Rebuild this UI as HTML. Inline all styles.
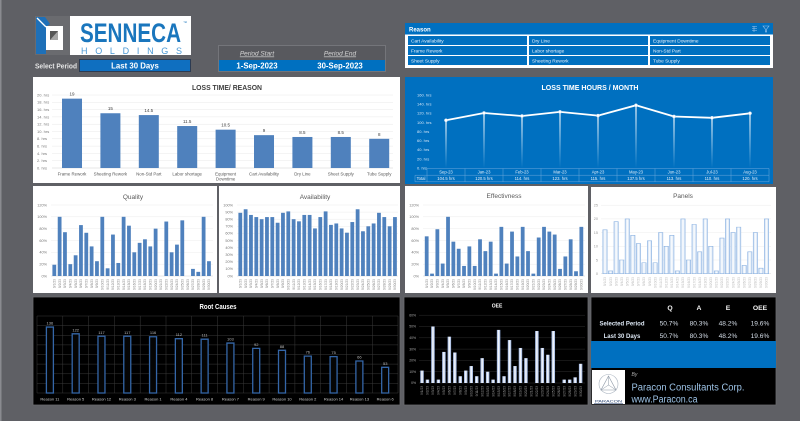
<!DOCTYPE html>
<html><head><meta charset="utf-8"><style>
html,body{margin:0;padding:0;background:#5f6065;}
svg{display:block;font-family:"Liberation Sans",sans-serif;}
</style></head><body>
<svg width="800" height="421" viewBox="0 0 800 421" xmlns="http://www.w3.org/2000/svg">
<defs>
<linearGradient id="drop" x1="0" y1="0" x2="0" y2="1"><stop offset="0" stop-color="#fff" stop-opacity="0.85"/><stop offset="1" stop-color="#fff" stop-opacity="0"/></linearGradient>
<linearGradient id="pan" x1="0" y1="0" x2="1" y2="0"><stop offset="0" stop-color="#c5d9f1"/><stop offset="0.5" stop-color="#ffffff"/><stop offset="1" stop-color="#c5d9f1"/></linearGradient>
<linearGradient id="oee" x1="0" y1="0" x2="1" y2="0"><stop offset="0" stop-color="#8faadc"/><stop offset="0.5" stop-color="#ffffff"/><stop offset="1" stop-color="#8faadc"/></linearGradient>
</defs>
<rect width="800" height="421" fill="#5f6065"/>
<rect x="0" y="0" width="1.5" height="421" fill="#8a8b90"/>

<!-- Logo -->
<rect x="35" y="16" width="156" height="39" fill="#fff"/>
<rect x="35" y="16" width="35" height="39" fill="#6a6b6f"/>
<rect x="36" y="18" width="10" height="36" fill="#1e70b8"/>
<polygon points="36,17 45,17 50,24 46,27 36,19" fill="#1e70b8"/>
<line x1="37" y1="18" x2="46" y2="27" stroke="#fff" stroke-width="1.3"/>
<rect x="46" y="26" width="17" height="24" fill="#fff"/>
<rect x="50" y="31" width="8" height="9" fill="#a5a5a5"/>
<polygon points="50,31 58,31 50,40" fill="#555"/>
<text x="80" y="42" font-size="27" font-weight="bold" fill="#1a76bd" textLength="101" lengthAdjust="spacingAndGlyphs">SENNECA</text>
<text x="183" y="24" font-size="4" fill="#1a76bd">™</text>
<text x="81" y="54" font-size="9" fill="#4a98d4" textLength="101" lengthAdjust="spacing">HOLDINGS</text>

<!-- Select period -->
<text x="35" y="68.5" font-size="7" font-weight="bold" fill="#e6e6e6" textLength="42" lengthAdjust="spacingAndGlyphs">Select Period</text>
<rect x="79.5" y="59.5" width="111" height="12" fill="#0f6fc0" stroke="#2c3b52" stroke-width="1"/>
<text x="135" y="68.3" font-size="7.8" font-weight="bold" fill="#fff" text-anchor="middle">Last 30 Days</text>

<!-- Period box -->
<rect x="218.5" y="45.5" width="167" height="26" fill="#58595e" stroke="#74757a" stroke-width="1"/>
<text x="257" y="55.5" font-size="6.5" font-style="italic" fill="#d6d6d6" text-anchor="middle" text-decoration="underline">Period Start</text>
<text x="340" y="55.5" font-size="6.5" font-style="italic" fill="#d6d6d6" text-anchor="middle" text-decoration="underline">Period End</text>
<rect x="219" y="60" width="166" height="11" fill="#0070c0"/>
<text x="257" y="68.6" font-size="7.8" font-weight="bold" fill="#fff" text-anchor="middle">1-Sep-2023</text>
<text x="340" y="68.6" font-size="7.8" font-weight="bold" fill="#fff" text-anchor="middle">30-Sep-2023</text>

<!-- Reason slicer -->
<rect x="405" y="23" width="368" height="45" fill="#fff"/>
<rect x="405" y="23" width="368" height="11.5" fill="#0070c0"/>
<text x="409" y="31.3" font-size="6" font-weight="bold" fill="#fff">Reason</text>
<g stroke="#9cc4ea" stroke-width="0.6" fill="none"><path d="M752,26.5h5M752,28.5h5M752,30.5h5M754,26v6"/><path d="M763,26h6l-2.3,3v3h-1.4v-3z"/></g>
<g fill="#0070c0">
<rect x="408" y="36" width="119" height="9"/><rect x="529" y="36" width="119" height="9"/><rect x="650" y="36" width="120" height="9"/>
<rect x="408" y="46" width="119" height="9"/><rect x="529" y="46" width="119" height="9"/><rect x="650" y="46" width="120" height="9"/>
<rect x="408" y="56" width="119" height="9"/><rect x="529" y="56" width="119" height="9"/><rect x="650" y="56" width="120" height="9"/>
</g>
<g font-size="4.8" fill="#e8f1fa">
<text x="411" y="42.3">Cart Availability</text><text x="532" y="42.3">Dry Line</text><text x="653" y="42.3">Equipment Downtime</text>
<text x="411" y="52.3">Frame Rework</text><text x="532" y="52.3">Labor shortage</text><text x="653" y="52.3">Non-Std Part</text>
<text x="411" y="62.3">Sheet Supply</text><text x="532" y="62.3">Sheeting Rework</text><text x="653" y="62.3">Tube Supply</text>
</g>

<!-- LOSS TIME / REASON -->
<rect x="33" y="77" width="367" height="106" fill="#fff"/>
<text x="227" y="90" font-size="7.5" font-weight="bold" fill="#404040" text-anchor="middle" textLength="70" lengthAdjust="spacingAndGlyphs">LOSS TIME/ REASON</text>
<g stroke="#e8e8e8" stroke-width="0.5">
<path d="M52,95H393M52,102.3H393M52,109.6H393M52,116.9H393M52,124.2H393M52,131.5H393M52,138.8H393M52,146.1H393M52,153.4H393M52,160.7H393"/>
</g>
<line x1="52" y1="168" x2="393" y2="168" stroke="#d0d0d0" stroke-width="0.6"/>
<g font-size="4" fill="#777">
<text x="37" y="96.4">20. hrs</text><text x="37" y="103.7">18. hrs</text><text x="37" y="111">16. hrs</text><text x="37" y="118.3">14. hrs</text><text x="37" y="125.6">12. hrs</text><text x="37" y="132.9">10. hrs</text><text x="37" y="140.2">8. hrs</text><text x="37" y="147.5">6. hrs</text><text x="37" y="154.8">4. hrs</text><text x="37" y="162.1">2. hrs</text><text x="37" y="169.4">0. hrs</text>
</g>
<g transform="translate(62,168) scale(38.4,-3.65)" fill="#4f81bd">
<rect x="0" y="0" width="0.521" height="19"/><rect x="1" y="0" width="0.521" height="15"/><rect x="2" y="0" width="0.521" height="14.5"/><rect x="3" y="0" width="0.521" height="11.5"/><rect x="4" y="0" width="0.521" height="10.5"/><rect x="5" y="0" width="0.521" height="9"/><rect x="6" y="0" width="0.521" height="8.5"/><rect x="7" y="0" width="0.521" height="8.5"/><rect x="8" y="0" width="0.521" height="8"/>
</g>
<g font-size="4.5" fill="#404040" text-anchor="middle">
<text x="72" y="95.5">19</text><text x="110.4" y="110">15</text><text x="148.8" y="112">14.5</text><text x="187.2" y="123">11.5</text><text x="225.6" y="126.5">10.5</text><text x="264" y="132">9</text><text x="302.4" y="134">8.5</text><text x="340.8" y="134">8.5</text><text x="379.2" y="135.8">8</text>
</g>
<g font-size="4.4" fill="#595959" text-anchor="middle">
<text x="72" y="175.5">Frame Rework</text><text x="110.4" y="175.5">Sheeting Rework</text><text x="148.8" y="175.5">Non-Std Part</text><text x="187.2" y="175.5">Labor shortage</text><text x="225.6" y="175.5">Equipment</text><text x="225.6" y="180.5">Downtime</text><text x="264" y="175.5">Cart Availability</text><text x="302.4" y="175.5">Dry Line</text><text x="340.8" y="175.5">Sheet Supply</text><text x="379.2" y="175.5">Tube Supply</text>
</g>

<!-- LOSS TIME HOURS / MONTH -->
<rect x="405" y="77" width="368" height="107" fill="#0070c0"/>
<text x="590" y="90" font-size="7.5" font-weight="bold" fill="#fff" text-anchor="middle" textLength="97" lengthAdjust="spacingAndGlyphs">LOSS TIME HOURS / MONTH</text>
<g font-size="4" fill="#d4e5f6">
<text x="417" y="96.4">160. hrs</text><text x="417" y="105.5">140. hrs</text><text x="417" y="114.6">120. hrs</text><text x="417" y="123.8">100. hrs</text><text x="417" y="132.9">80. hrs</text><text x="417" y="142">60. hrs</text><text x="417" y="151.1">40. hrs</text><text x="417" y="160.3">20. hrs</text><text x="417" y="169.4">0. hrs</text>
</g>
<g fill="url(#drop)">
<rect x="445.3" y="120.3" width="1.4" height="47.7"/><rect x="483.3" y="113" width="1.4" height="55"/><rect x="521.3" y="116" width="1.4" height="52"/><rect x="559.3" y="111.9" width="1.4" height="56.1"/><rect x="597.3" y="115.6" width="1.4" height="52.4"/><rect x="635.3" y="105.3" width="1.4" height="62.7"/><rect x="673.3" y="116.5" width="1.4" height="51.5"/><rect x="711.3" y="117.8" width="1.4" height="50.2"/><rect x="749.3" y="113.3" width="1.4" height="54.7"/>
</g>
<polyline points="446,120.3 484,113 522,116 560,111.9 598,115.6 636,105.3 674,116.5 712,117.8 750,113.3" fill="none" stroke="#fff" stroke-width="1.8" stroke-linejoin="round"/>
<g fill="#fff" stroke="#c9dcf0" stroke-width="0.5">
<circle cx="446" cy="120.3" r="1.6"/><circle cx="484" cy="113" r="1.6"/><circle cx="522" cy="116" r="1.6"/><circle cx="560" cy="111.9" r="1.6"/><circle cx="598" cy="115.6" r="1.6"/><circle cx="636" cy="105.3" r="1.6"/><circle cx="674" cy="116.5" r="1.6"/><circle cx="712" cy="117.8" r="1.6"/><circle cx="750" cy="113.3" r="1.6"/>
</g>
<g stroke="#6aa6db" stroke-width="0.5" fill="none">
<path d="M427,168.5H769M415,175.2H769M415,181.8H769"/>
<path d="M415,175.2V181.8M427,168.5V181.8M465,168.5V181.8M503,168.5V181.8M541,168.5V181.8M579,168.5V181.8M617,168.5V181.8M655,168.5V181.8M693,168.5V181.8M731,168.5V181.8M769,168.5V181.8"/>
</g>
<g font-size="4.2" fill="#e3eef9" text-anchor="middle">
<text x="446" y="173.4">Sep-23</text><text x="484" y="173.4">Jan-23</text><text x="522" y="173.4">Feb-23</text><text x="560" y="173.4">Mar-23</text><text x="598" y="173.4">Apr-23</text><text x="636" y="173.4">May-23</text><text x="674" y="173.4">Jun-23</text><text x="712" y="173.4">Jul-23</text><text x="750" y="173.4">Aug-23</text>
<text x="421" y="180">Total</text>
<text x="446" y="180">104.5 hrs</text><text x="484" y="180">120.5 hrs</text><text x="522" y="180">114. hrs</text><text x="560" y="180">123. hrs</text><text x="598" y="180">115. hrs</text><text x="636" y="180">137.5 hrs</text><text x="674" y="180">113. hrs</text><text x="712" y="180">110. hrs</text><text x="750" y="180">120. hrs</text>
</g>

<!-- ROW 2 panels -->
<rect x="33" y="186" width="184" height="107" fill="#fff"/>
<rect x="219" y="186" width="181" height="107" fill="#fff"/>
<rect x="405" y="186" width="183" height="107" fill="#fff"/>
<rect x="591" y="187" width="185" height="106" fill="#fff"/>

<!-- Quality -->
<text x="133" y="199" font-size="6.5" fill="#595959" text-anchor="middle">Quality</text>
<path d="M51,205H213M51,216.8H213M51,228.6H213M51,240.5H213M51,252.3H213M51,264.2H213" stroke="#ececec" stroke-width="0.5"/>
<line x1="51" y1="276" x2="213" y2="276" stroke="#d0d0d0" stroke-width="0.5"/>
<g font-size="3.8" fill="#777" text-anchor="end">
<text x="47" y="206.3">120%</text><text x="47" y="218.1">100%</text><text x="47" y="229.9">80%</text><text x="47" y="241.8">60%</text><text x="47" y="253.6">40%</text><text x="47" y="265.5">20%</text><text x="47" y="277.3">0%</text>
</g>
<g transform="translate(52.4,276) scale(5.333,-0.592)" fill="#4f81bd">
<rect x="0" width="0.71" height="19"/><rect x="1" width="0.71" height="100"/><rect x="2" width="0.71" height="74"/><rect x="3" width="0.71" height="20"/><rect x="4" width="0.71" height="35"/><rect x="5" width="0.71" height="86"/><rect x="6" width="0.71" height="73"/><rect x="7" width="0.71" height="50"/><rect x="8" width="0.71" height="25"/><rect x="9" width="0.71" height="100"/><rect x="10" width="0.71" height="13"/><rect x="11" width="0.71" height="70"/><rect x="12" width="0.71" height="22"/><rect x="13" width="0.71" height="100"/><rect x="14" width="0.71" height="85"/><rect x="15" width="0.71" height="40"/><rect x="16" width="0.71" height="56"/><rect x="17" width="0.71" height="62"/><rect x="18" width="0.71" height="50"/><rect x="19" width="0.71" height="80"/><rect x="21" width="0.71" height="92"/><rect x="22" width="0.71" height="40"/><rect x="23" width="0.71" height="53"/><rect x="24" width="0.71" height="94"/><rect x="26" width="0.71" height="12"/><rect x="27" width="0.71" height="7"/><rect x="28" width="0.71" height="100"/><rect x="29" width="0.71" height="25"/>
</g>
<g transform="translate(54.3,279) rotate(-90)" font-size="3.3" fill="#808080" text-anchor="end">
<text y="1.2">9/1/23</text><text y="6.53">9/2/23</text><text y="11.87">9/3/23</text><text y="17.2">9/4/23</text><text y="22.53">9/5/23</text><text y="27.87">9/6/23</text><text y="33.2">9/7/23</text><text y="38.53">9/8/23</text><text y="43.87">9/9/23</text><text y="49.2">9/10/23</text><text y="54.53">9/11/23</text><text y="59.87">9/12/23</text><text y="65.2">9/13/23</text><text y="70.53">9/14/23</text><text y="75.87">9/15/23</text><text y="81.2">9/16/23</text><text y="86.53">9/17/23</text><text y="91.87">9/18/23</text><text y="97.2">9/19/23</text><text y="102.53">9/20/23</text><text y="107.87">9/21/23</text><text y="113.2">9/22/23</text><text y="118.53">9/23/23</text><text y="123.87">9/24/23</text><text y="129.2">9/25/23</text><text y="134.53">9/26/23</text><text y="139.87">9/27/23</text><text y="145.2">9/28/23</text><text y="150.53">9/29/23</text><text y="155.87">9/30/23</text>
</g>

<!-- Availability -->
<text x="315" y="199" font-size="6.5" fill="#595959" text-anchor="middle">Availability</text>
<path d="M237,205H398M237,212.1H398M237,219.2H398M237,226.3H398M237,233.4H398M237,240.5H398M237,247.6H398M237,254.7H398M237,261.8H398M237,268.9H398" stroke="#ececec" stroke-width="0.5"/>
<line x1="237" y1="276" x2="398" y2="276" stroke="#d0d0d0" stroke-width="0.5"/>
<g font-size="3.8" fill="#777" text-anchor="end">
<text x="233" y="206.3">100%</text><text x="233" y="213.4">90%</text><text x="233" y="220.5">80%</text><text x="233" y="227.6">70%</text><text x="233" y="234.7">60%</text><text x="233" y="241.8">50%</text><text x="233" y="248.9">40%</text><text x="233" y="256">30%</text><text x="233" y="263.1">20%</text><text x="233" y="270.2">10%</text><text x="233" y="277.3">0%</text>
</g>
<g transform="translate(238.4,276) scale(5.333,-0.71)" fill="#4f81bd">
<rect x="0" width="0.71" height="89"/><rect x="1" width="0.71" height="94"/><rect x="2" width="0.71" height="86"/><rect x="3" width="0.71" height="83"/><rect x="4" width="0.71" height="80"/><rect x="5" width="0.71" height="83"/><rect x="6" width="0.71" height="83"/><rect x="7" width="0.71" height="75"/><rect x="8" width="0.71" height="89"/><rect x="9" width="0.71" height="91"/><rect x="10" width="0.71" height="80"/><rect x="11" width="0.71" height="77"/><rect x="12" width="0.71" height="86"/><rect x="13" width="0.71" height="86"/><rect x="14" width="0.71" height="67"/><rect x="15" width="0.71" height="83"/><rect x="16" width="0.71" height="91"/><rect x="17" width="0.71" height="72"/><rect x="18" width="0.71" height="74"/><rect x="19" width="0.71" height="67"/><rect x="20" width="0.71" height="61"/><rect x="21" width="0.71" height="76"/><rect x="22" width="0.71" height="94"/><rect x="23" width="0.71" height="63"/><rect x="24" width="0.71" height="70"/><rect x="25" width="0.71" height="74"/><rect x="26" width="0.71" height="89"/><rect x="27" width="0.71" height="83"/><rect x="28" width="0.71" height="70"/><rect x="29" width="0.71" height="83"/>
</g>
<g transform="translate(240.3,279) rotate(-90)" font-size="3.3" fill="#808080" text-anchor="end">
<text y="1.2">9/1/23</text><text y="6.53">9/2/23</text><text y="11.87">9/3/23</text><text y="17.2">9/4/23</text><text y="22.53">9/5/23</text><text y="27.87">9/6/23</text><text y="33.2">9/7/23</text><text y="38.53">9/8/23</text><text y="43.87">9/9/23</text><text y="49.2">9/10/23</text><text y="54.53">9/11/23</text><text y="59.87">9/12/23</text><text y="65.2">9/13/23</text><text y="70.53">9/14/23</text><text y="75.87">9/15/23</text><text y="81.2">9/16/23</text><text y="86.53">9/17/23</text><text y="91.87">9/18/23</text><text y="97.2">9/19/23</text><text y="102.53">9/20/23</text><text y="107.87">9/21/23</text><text y="113.2">9/22/23</text><text y="118.53">9/23/23</text><text y="123.87">9/24/23</text><text y="129.2">9/25/23</text><text y="134.53">9/26/23</text><text y="139.87">9/27/23</text><text y="145.2">9/28/23</text><text y="150.53">9/29/23</text><text y="155.87">9/30/23</text>
</g>

<!-- Effectiveness -->
<text x="504" y="198" font-size="6.5" fill="#595959" text-anchor="middle">Effectivness</text>
<path d="M423,205H585M423,216.8H585M423,228.6H585M423,240.5H585M423,252.3H585M423,264.2H585" stroke="#ececec" stroke-width="0.5"/>
<line x1="423" y1="276" x2="585" y2="276" stroke="#d0d0d0" stroke-width="0.5"/>
<g font-size="3.8" fill="#777" text-anchor="end">
<text x="419" y="206.3">120%</text><text x="419" y="218.1">100%</text><text x="419" y="229.9">80%</text><text x="419" y="241.8">60%</text><text x="419" y="253.6">40%</text><text x="419" y="265.5">20%</text><text x="419" y="277.3">0%</text>
</g>
<g transform="translate(424.8,276) scale(5.333,-0.592)" fill="#4f81bd">
<rect x="0" width="0.71" height="67"/><rect x="1" width="0.71" height="4"/><rect x="2" width="0.71" height="79"/><rect x="3" width="0.71" height="21"/><rect x="4" width="0.71" height="100"/><rect x="5" width="0.71" height="58"/><rect x="6" width="0.71" height="46"/><rect x="7" width="0.71" height="17"/><rect x="8" width="0.71" height="50"/><rect x="9" width="0.71" height="17"/><rect x="10" width="0.71" height="62"/><rect x="11" width="0.71" height="42"/><rect x="12" width="0.71" height="58"/><rect x="13" width="0.71" height="4"/><rect x="14" width="0.71" height="83"/><rect x="15" width="0.71" height="21"/><rect x="16" width="0.71" height="75"/><rect x="17" width="0.71" height="33"/><rect x="18" width="0.71" height="83"/><rect x="19" width="0.71" height="42"/><rect x="20" width="0.71" height="4"/><rect x="21" width="0.71" height="65"/><rect x="22" width="0.71" height="83"/><rect x="23" width="0.71" height="75"/><rect x="24" width="0.71" height="70"/><rect x="25" width="0.71" height="12"/><rect x="26" width="0.71" height="33"/><rect x="27" width="0.71" height="62"/><rect x="28" width="0.71" height="8"/><rect x="29" width="0.71" height="83"/>
</g>
<g transform="translate(426.7,279) rotate(-90)" font-size="3.3" fill="#808080" text-anchor="end">
<text y="1.2">9/1/23</text><text y="6.53">9/2/23</text><text y="11.87">9/3/23</text><text y="17.2">9/4/23</text><text y="22.53">9/5/23</text><text y="27.87">9/6/23</text><text y="33.2">9/7/23</text><text y="38.53">9/8/23</text><text y="43.87">9/9/23</text><text y="49.2">9/10/23</text><text y="54.53">9/11/23</text><text y="59.87">9/12/23</text><text y="65.2">9/13/23</text><text y="70.53">9/14/23</text><text y="75.87">9/15/23</text><text y="81.2">9/16/23</text><text y="86.53">9/17/23</text><text y="91.87">9/18/23</text><text y="97.2">9/19/23</text><text y="102.53">9/20/23</text><text y="107.87">9/21/23</text><text y="113.2">9/22/23</text><text y="118.53">9/23/23</text><text y="123.87">9/24/23</text><text y="129.2">9/25/23</text><text y="134.53">9/26/23</text><text y="139.87">9/27/23</text><text y="145.2">9/28/23</text><text y="150.53">9/29/23</text><text y="155.87">9/30/23</text>
</g>

<!-- Panels -->
<text x="683" y="198" font-size="6.5" fill="#595959" text-anchor="middle">Panels</text>
<path d="M601,205.2H771M601,218.9H771M601,232.6H771M601,246.3H771M601,260H771" stroke="#ececec" stroke-width="0.5"/>
<line x1="601" y1="273.7" x2="771" y2="273.7" stroke="#d8d8d8" stroke-width="0.5"/>
<g font-size="3.8" fill="#9a9a9a" text-anchor="end">
<text x="598" y="206.5">25</text><text x="598" y="220.2">20</text><text x="598" y="233.9">15</text><text x="598" y="247.6">10</text><text x="598" y="261.3">5</text><text x="598" y="275">0</text>
</g>
<g transform="translate(602.85,273.7) scale(5.57,-2.74)" fill="url(#pan)" stroke="#8db3e2" stroke-width="0.6">
<rect x="0" width="0.77" height="16" vector-effect="non-scaling-stroke"/><rect x="1" width="0.77" height="1" vector-effect="non-scaling-stroke"/><rect x="2" width="0.77" height="19" vector-effect="non-scaling-stroke"/><rect x="3" width="0.77" height="5" vector-effect="non-scaling-stroke"/><rect x="4" width="0.77" height="20" vector-effect="non-scaling-stroke"/><rect x="5" width="0.77" height="14" vector-effect="non-scaling-stroke"/><rect x="6" width="0.77" height="11" vector-effect="non-scaling-stroke"/><rect x="7" width="0.77" height="4" vector-effect="non-scaling-stroke"/><rect x="8" width="0.77" height="12" vector-effect="non-scaling-stroke"/><rect x="9" width="0.77" height="4" vector-effect="non-scaling-stroke"/><rect x="10" width="0.77" height="15" vector-effect="non-scaling-stroke"/><rect x="11" width="0.77" height="10" vector-effect="non-scaling-stroke"/><rect x="12" width="0.77" height="14" vector-effect="non-scaling-stroke"/><rect x="13" width="0.77" height="1" vector-effect="non-scaling-stroke"/><rect x="14" width="0.77" height="20" vector-effect="non-scaling-stroke"/><rect x="15" width="0.77" height="5" vector-effect="non-scaling-stroke"/><rect x="16" width="0.77" height="18" vector-effect="non-scaling-stroke"/><rect x="17" width="0.77" height="8" vector-effect="non-scaling-stroke"/><rect x="18" width="0.77" height="20" vector-effect="non-scaling-stroke"/><rect x="19" width="0.77" height="10" vector-effect="non-scaling-stroke"/><rect x="20" width="0.77" height="1" vector-effect="non-scaling-stroke"/><rect x="21" width="0.77" height="13" vector-effect="non-scaling-stroke"/><rect x="22" width="0.77" height="20" vector-effect="non-scaling-stroke"/><rect x="23" width="0.77" height="15" vector-effect="non-scaling-stroke"/><rect x="24" width="0.77" height="17" vector-effect="non-scaling-stroke"/><rect x="25" width="0.77" height="3" vector-effect="non-scaling-stroke"/><rect x="26" width="0.77" height="8" vector-effect="non-scaling-stroke"/><rect x="27" width="0.77" height="15" vector-effect="non-scaling-stroke"/><rect x="28" width="0.77" height="2" vector-effect="non-scaling-stroke"/><rect x="29" width="0.77" height="20" vector-effect="non-scaling-stroke"/>
</g>
<g transform="translate(605,277) rotate(-90)" font-size="3.3" fill="#b8b8b8" text-anchor="end">
<text y="1.2">9/1/23</text><text y="6.77">9/2/23</text><text y="12.34">9/3/23</text><text y="17.91">9/4/23</text><text y="23.48">9/5/23</text><text y="29.05">9/6/23</text><text y="34.62">9/7/23</text><text y="40.19">9/8/23</text><text y="45.76">9/9/23</text><text y="51.33">9/10/23</text><text y="56.9">9/11/23</text><text y="62.47">9/12/23</text><text y="68.04">9/13/23</text><text y="73.61">9/14/23</text><text y="79.18">9/15/23</text><text y="84.75">9/16/23</text><text y="90.32">9/17/23</text><text y="95.89">9/18/23</text><text y="101.46">9/19/23</text><text y="107.03">9/20/23</text><text y="112.6">9/21/23</text><text y="118.17">9/22/23</text><text y="123.74">9/23/23</text><text y="129.31">9/24/23</text><text y="134.88">9/25/23</text><text y="140.45">9/26/23</text><text y="146.02">9/27/23</text><text y="151.59">9/28/23</text><text y="157.16">9/29/23</text><text y="162.73">9/30/23</text>
</g>

<!-- ROOT CAUSES -->
<rect x="33" y="297" width="367" height="108" fill="#000" stroke="#6a6a6e" stroke-width="0.8"/>
<text x="218" y="308.8" font-size="7" font-weight="bold" fill="#fff" text-anchor="middle" textLength="37" lengthAdjust="spacingAndGlyphs">Root Causes</text>
<g stroke="#3a3a3a" stroke-width="0.5" fill="none">
<path d="M37,316H398M37,325.6H398M37,335.3H398M37,344.9H398M37,354.5H398M37,364.1H398M37,373.8H398M37,383.4H398M37,393H398"/>
<path d="M37,316V393M62.8,316V393M88.6,316V393M114.4,316V393M140.2,316V393M166,316V393M191.7,316V393M217.5,316V393M243.3,316V393M269.1,316V393M294.9,316V393M320.7,316V393M346.5,316V393M372.3,316V393M398,316V393"/>
</g>
<g transform="translate(46.4,393) scale(25.79,-0.485)" fill="#050505" stroke="#3466a8" stroke-width="1.3">
<rect x="0" width="0.271" height="136" vector-effect="non-scaling-stroke"/><rect x="1" width="0.271" height="122" vector-effect="non-scaling-stroke"/><rect x="2" width="0.271" height="117" vector-effect="non-scaling-stroke"/><rect x="3" width="0.271" height="117" vector-effect="non-scaling-stroke"/><rect x="4" width="0.271" height="116" vector-effect="non-scaling-stroke"/><rect x="5" width="0.271" height="112" vector-effect="non-scaling-stroke"/><rect x="6" width="0.271" height="111" vector-effect="non-scaling-stroke"/><rect x="7" width="0.271" height="103" vector-effect="non-scaling-stroke"/><rect x="8" width="0.271" height="92" vector-effect="non-scaling-stroke"/><rect x="9" width="0.271" height="88" vector-effect="non-scaling-stroke"/><rect x="10" width="0.271" height="76" vector-effect="non-scaling-stroke"/><rect x="11" width="0.271" height="75" vector-effect="non-scaling-stroke"/><rect x="12" width="0.271" height="66" vector-effect="non-scaling-stroke"/><rect x="13" width="0.271" height="53" vector-effect="non-scaling-stroke"/>
</g>
<g font-size="4" fill="#bdbdbd" text-anchor="middle">
<text x="49.9" y="324.5">136</text><text x="75.7" y="331.3">122</text><text x="101.5" y="333.8">117</text><text x="127.3" y="333.8">117</text><text x="153.1" y="334.2">116</text><text x="178.9" y="336.2">112</text><text x="204.6" y="336.7">111</text><text x="230.4" y="340.5">103</text><text x="256.2" y="345.9">92</text><text x="282" y="347.8">88</text><text x="307.8" y="353.6">76</text><text x="333.6" y="354.1">75</text><text x="359.4" y="358.5">66</text><text x="385.2" y="364.8">53</text>
</g>
<g font-size="4" fill="#cfcfcf" text-anchor="middle">
<text x="49.9" y="400.5">Reason 11</text><text x="75.7" y="400.5">Reason 5</text><text x="101.5" y="400.5">Reason 12</text><text x="127.3" y="400.5">Reason 3</text><text x="153.1" y="400.5">Reason 1</text><text x="178.9" y="400.5">Reason 4</text><text x="204.6" y="400.5">Reason 8</text><text x="230.4" y="400.5">Reason 7</text><text x="256.2" y="400.5">Reason 9</text><text x="282" y="400.5">Reason 10</text><text x="307.8" y="400.5">Reason 2</text><text x="333.6" y="400.5">Reason 14</text><text x="359.4" y="400.5">Reason 13</text><text x="385.2" y="400.5">Reason 6</text>
</g>

<!-- OEE -->
<rect x="404" y="297" width="184" height="108" fill="#000" stroke="#6a6a6e" stroke-width="0.8"/>
<text x="497" y="307.5" font-size="5" font-weight="bold" fill="#fff" text-anchor="middle">OEE</text>
<path d="M419,315.2H585M419,326.5H585M419,337.8H585M419,349.1H585M419,360.4H585M419,371.7H585M419,383H585" stroke="#2e2e2e" stroke-width="0.5"/>
<g font-size="3.4" fill="#a8a8a8" text-anchor="end">
<text x="416" y="316.4">60%</text><text x="416" y="327.7">50%</text><text x="416" y="339">40%</text><text x="416" y="350.3">30%</text><text x="416" y="361.6">20%</text><text x="416" y="372.9">10%</text><text x="416" y="384.2">0%</text>
</g>
<g transform="translate(420.25,383) scale(5.47,-1.13)" fill="url(#oee)">
<rect x="0" width="0.64" height="11"/><rect x="1" width="0.64" height="3"/><rect x="2" width="0.64" height="50"/><rect x="3" width="0.64" height="3"/><rect x="4" width="0.64" height="27.5"/><rect x="5" width="0.64" height="41"/><rect x="6" width="0.64" height="27"/><rect x="7" width="0.64" height="6"/><rect x="8" width="0.64" height="11"/><rect x="9" width="0.64" height="15"/><rect x="10" width="0.64" height="6"/><rect x="11" width="0.64" height="22"/><rect x="12" width="0.64" height="10"/><rect x="13" width="0.64" height="3"/><rect x="14" width="0.64" height="47"/><rect x="15" width="0.64" height="6"/><rect x="16" width="0.64" height="38"/><rect x="17" width="0.64" height="15"/><rect x="18" width="0.64" height="31"/><rect x="19" width="0.64" height="22"/><rect x="21" width="0.64" height="46"/><rect x="22" width="0.64" height="31"/><rect x="23" width="0.64" height="25"/><rect x="24" width="0.64" height="46"/><rect x="26" width="0.64" height="3"/><rect x="27" width="0.64" height="3"/><rect x="28" width="0.64" height="5"/><rect x="29" width="0.64" height="17"/>
</g>
<g transform="translate(422,386) rotate(-90)" font-size="3.2" fill="#9a9a9a" text-anchor="end">
<text y="1.2">9/1/23</text><text y="6.67">9/2/23</text><text y="12.14">9/3/23</text><text y="17.61">9/4/23</text><text y="23.08">9/5/23</text><text y="28.55">9/6/23</text><text y="34.02">9/7/23</text><text y="39.49">9/8/23</text><text y="44.96">9/9/23</text><text y="50.43">9/10/23</text><text y="55.9">9/11/23</text><text y="61.37">9/12/23</text><text y="66.84">9/13/23</text><text y="72.31">9/14/23</text><text y="77.78">9/15/23</text><text y="83.25">9/16/23</text><text y="88.72">9/17/23</text><text y="94.19">9/18/23</text><text y="99.66">9/19/23</text><text y="105.13">9/20/23</text><text y="110.6">9/21/23</text><text y="116.07">9/22/23</text><text y="121.54">9/23/23</text><text y="127.01">9/24/23</text><text y="132.48">9/25/23</text><text y="137.95">9/26/23</text><text y="143.42">9/27/23</text><text y="148.89">9/28/23</text><text y="154.36">9/29/23</text><text y="159.83">9/30/23</text>
</g>

<!-- KPI table -->
<rect x="591" y="297" width="185" height="108" fill="#000" stroke="#6a6a6e" stroke-width="0.8"/>
<g font-size="6.8" font-weight="bold" fill="#f2f2f2" text-anchor="middle">
<text x="670" y="309.8">Q</text><text x="699" y="309.8">A</text><text x="728" y="309.8">E</text><text x="760" y="309.8">OEE</text>
</g>
<g font-size="6" font-weight="bold" fill="#dbe6f3" text-anchor="middle">
<text x="622" y="325.5">Selected Period</text><text x="622" y="338">Last 30 Days</text>
</g>
<g font-size="6.6" fill="#d6dfea" text-anchor="middle">
<text x="669" y="325.5">50.7%</text><text x="699" y="325.5">80.3%</text><text x="728" y="325.5">48.2%</text><text x="760" y="325.5">19.6%</text>
<text x="669" y="338">50.7%</text><text x="699" y="338">80.3%</text><text x="728" y="338">48.2%</text><text x="760" y="338">19.6%</text>
</g>
<rect x="591" y="341" width="185" height="27" fill="#0070c0"/>
<rect x="592" y="370" width="33" height="34" fill="#fff"/>
<circle cx="608.5" cy="384" r="9.5" fill="none" stroke="#a9b3bf" stroke-width="0.6"/>
<polygon points="608.5,376 616,390 601,390" fill="none" stroke="#8d98a6" stroke-width="0.6"/>
<path d="M608.5,376V385M608.5,385L601,390M608.5,385L616,390" stroke="#8d98a6" stroke-width="0.5" fill="none"/>
<rect x="593" y="398" width="31" height="5" fill="#fff"/>
<text x="608.5" y="402.3" font-size="3.8" fill="#1f3b6b" text-anchor="middle" textLength="27" lengthAdjust="spacingAndGlyphs">PARACON</text>
<line x1="594" y1="403.3" x2="623" y2="403.3" stroke="#1f3b6b" stroke-width="0.5"/>
<text x="631.5" y="376" font-size="5" font-style="italic" fill="#b0b0b0">By</text>
<text x="631.5" y="390.5" font-size="10" fill="#9dc3e6" textLength="113" lengthAdjust="spacingAndGlyphs">Paracon Consultants Corp.</text>
<text x="631.5" y="402.5" font-size="10" fill="#9dc3e6" textLength="66" lengthAdjust="spacingAndGlyphs">www.Paracon.ca</text>
</svg>
</body></html>
